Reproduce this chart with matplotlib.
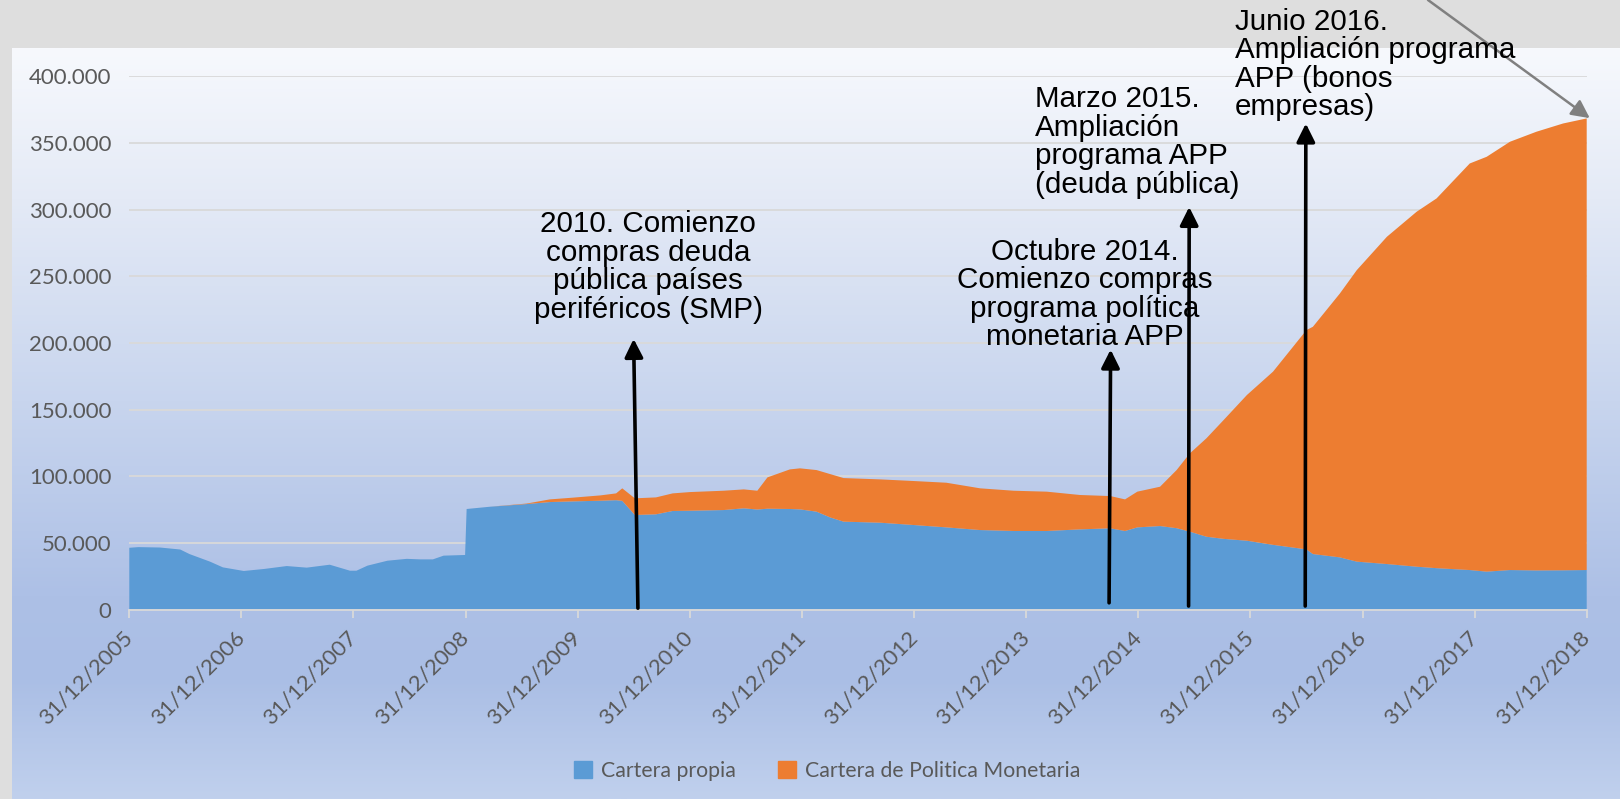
import numpy as np
import pandas as pd
import matplotlib
matplotlib.use("Agg")
import matplotlib.pyplot as plt
import matplotlib.dates as mdates
import matplotlib.transforms as mtransforms
from matplotlib.patches import Patch
from matplotlib.colors import LinearSegmentedColormap
from matplotlib.ticker import FuncFormatter

# fechas y valores
fechas = ['2005-12-31', '2006-01-30', '2006-04-10', '2006-06-15', '2006-07-15',
          '2006-09-20', '2006-11-01', '2007-01-08', '2007-03-15', '2007-05-28',
          '2007-08-01', '2007-10-15', '2007-12-20', '2008-01-10', '2008-02-15',
          '2008-04-20', '2008-06-22', '2008-08-05', '2008-09-15', '2008-10-20',
          '2008-12-29', '2009-01-03', '2009-03-20', '2009-07-18', '2009-10-01',
          '2009-12-15', '2010-03-15', '2010-05-05', '2010-05-25', '2010-07-05',
          '2010-09-12', '2010-11-05', '2011-01-01', '2011-04-20', '2011-06-25',
          '2011-08-08', '2011-09-10', '2011-11-22', '2011-12-25', '2012-02-17',
          '2012-04-01', '2012-05-15', '2012-09-12', '2012-12-28', '2013-04-15',
          '2013-08-03', '2013-11-20', '2014-03-08', '2014-06-24', '2014-10-01',
          '2014-11-18', '2014-12-28', '2015-03-12', '2015-05-05', '2015-06-17',
          '2015-08-10', '2015-10-05', '2015-12-20', '2016-03-14', '2016-07-01',
          '2016-07-22', '2016-10-18', '2016-12-12', '2017-03-20', '2017-06-25',
          '2017-08-29', '2017-12-15', '2018-02-08', '2018-04-25', '2018-07-20',
          '2018-10-15', '2018-12-31']

cartera_propia = [46300, 46800, 46500, 45000, 41600,
                  35900, 31600, 28900, 30400, 32600,
                  31400, 33600, 29100, 29100, 32900,
                  36600, 38000, 37600, 37600, 40400,
                  40900, 75400, 77100, 79100, 80600,
                  81100, 81600, 82000, 81500, 70900,
                  71400, 73900, 74100, 74600, 75900,
                  75000, 75600, 75400, 75100, 73400,
                  69100, 65900, 65100, 63400, 61600,
                  59600, 58900, 58900, 60100, 60900,
                  58900, 61600, 62600, 61000, 58400,
                  54600, 53000, 51600, 48500, 45100,
                  41600, 39100, 35900, 34100, 32100,
                  31000, 29600, 28400, 29600, 29300,
                  29400, 29600]

cartera_pm = [0, 0, 0, 0, 0,
              0, 0, 0, 0, 0,
              0, 0, 0, 0, 0,
              0, 0, 0, 0, 0,
              0, 0, 0, 400, 2000,
              2800, 4000, 5100, 9400, 12500,
              12700, 13200, 14000, 14500, 14200,
              14100, 23500, 29700, 30800, 31200,
              32500, 32700, 32500, 33000, 33500,
              31300, 30200, 29500, 25800, 24200,
              23700, 26800, 29500, 43600, 58700,
              73800, 89100, 109300, 129900, 164500,
              170500, 198000, 218700, 245500, 266300,
              277400, 305000, 311200, 321300, 329100,
              335200, 338800]

ticks_x = ['2005-12-31', '2006-12-31', '2007-12-31', '2008-12-31', '2009-12-31',
           '2010-12-31', '2011-12-31', '2012-12-31', '2013-12-31', '2014-12-31',
           '2015-12-31', '2016-12-31', '2017-12-31', '2018-12-31']
ticks_y = [0, 50000, 100000, 150000, 200000, 250000, 300000, 350000, 400000]

etiquetas = ['2010. Comienzo\ncompras deuda\npública países\nperiféricos (SMP)',
             'Octubre 2014.\nComienzo compras\nprograma política\nmonetaria APP',
             'Marzo 2015.\nAmpliación\nprograma APP\n(deuda pública)',
             'Junio 2016.\nAmpliación programa\nAPP (bonos\nempresas)']
# punta y base de cada flecha (fecha, valor)
flecha_punta = [('2010-07-01', 203000), ('2014-10-02', 195000),
                ('2015-06-15', 302000), ('2016-06-29', 364600)]
flecha_base = [('2010-07-15', 1000), ('2014-09-27', 5000),
               ('2015-06-13', 2600), ('2016-06-27', 2600)]

x = pd.to_datetime(fechas)

W, H = 1620, 799
fig = plt.figure(figsize=(W / 100, H / 100), dpi=100, facecolor='#dedede')

# fondo degradado
bg = fig.add_axes([12 / W, 0, 1 - 12 / W, 751 / H], zorder=-2)
cmap = LinearSegmentedColormap.from_list('fondo', [
    (0.0, '#f7f9fd'), (0.2, '#e4eaf6'), (0.47, '#c8d5ee'),
    (0.73, '#adc0e6'), (0.84, '#aabee5'), (1.0, '#c0d0ed')])
bg.imshow(np.linspace(0, 1, 256).reshape(-1, 1), cmap=cmap, aspect='auto',
          extent=[0, 1, 1, 0])
bg.set_axis_off()

ax = fig.add_axes([129.3 / W, (H - 609.5) / H, (1586.7 - 129.3) / W, (609.5 - 76.3) / H])
ax.set_facecolor('none')

ax.stackplot(x, cartera_propia, cartera_pm, colors=['#5b9bd5', '#ed7d31'],
             linewidth=0, zorder=2)

ax.set_xlim(pd.Timestamp('2005-12-31'), pd.Timestamp('2018-12-31'))
ax.set_ylim(0, 400000)
ax.set_yticks(ticks_y)
ax.yaxis.set_major_formatter(FuncFormatter(lambda v, p: f'{int(v):,}'.replace(',', '.')))
ax.set_xticks(pd.to_datetime(ticks_x))
ax.xaxis.set_major_formatter(mdates.DateFormatter('%d/%m/%Y'))

ax.grid(axis='y', color='#d9d9d9', linewidth=1.3, zorder=0)
ax.set_axisbelow(True)
for s in ['top', 'right', 'left']:
    ax.spines[s].set_visible(False)
ax.spines['bottom'].set_color('#d9d9d9')
ax.spines['bottom'].set_linewidth(1.3)

ax.tick_params(axis='y', length=0, pad=13, labelsize=16, labelcolor='#595959')
ax.tick_params(axis='x', length=6, width=1.3, color='#d9d9d9', pad=7,
               labelsize=16, labelcolor='#595959')
desplaza = mtransforms.ScaledTranslation(-7 / 100, 0, fig.dpi_scale_trans)
for lab in ax.get_xticklabels():
    lab.set_rotation(45)
    lab.set_ha('right')
    lab.set_va('top')
    lab.set_rotation_mode('anchor')
    lab.set_transform(lab.get_transform() + desplaza)
for lab in ax.get_xticklabels() + ax.get_yticklabels():
    lab.set_fontfamily('Lato')

# flechas negras
estilo = '-|>,head_length=1.1,head_width=0.55'
for (fp, vp), (fb, vb) in zip(flecha_punta, flecha_base):
    ax.annotate('', xy=(pd.Timestamp(fp), vp), xytext=(pd.Timestamp(fb), vb),
                arrowprops=dict(arrowstyle=estilo, color='black', lw=2.6,
                                shrinkA=0, shrinkB=0),
                zorder=5)

# flecha gris
ax.annotate('', xy=(pd.Timestamp('2019-01-10'), 368600), xytext=(1428, H),
            textcoords='figure pixels', annotation_clip=False,
            arrowprops=dict(arrowstyle=estilo, color='#808080', lw=1.8,
                            shrinkA=0, shrinkB=0),
            zorder=5)

# textos
posiciones = [(648, H - 267, 'center'), (1085, H - 294.5, 'center'),
              (1035, H - 142, 'left'), (1235, H - 64.3, 'left')]
for texto, (px, py, al) in zip(etiquetas, posiciones):
    fig.text(px / W, py / H, texto, ha=al, va='center', multialignment=al,
             fontsize=21.3, family='Liberation Sans', linespacing=1.02,
             color='black', zorder=6)

# leyenda
handles = [Patch(color='#5b9bd5', label='Cartera propia'),
           Patch(color='#ed7d31', label='Cartera de Politica Monetaria')]
leg = fig.legend(handles=handles, loc='center', ncol=2,
                 bbox_to_anchor=(827 / W, (H - 771) / H), frameon=False,
                 handlelength=0.85, handleheight=0.85, handletextpad=0.4,
                 columnspacing=2.0, prop={'family': 'Lato', 'size': 15.3})
for t in leg.get_texts():
    t.set_color('#595959')

fig.savefig('out.png', dpi=100, facecolor=fig.get_facecolor())
